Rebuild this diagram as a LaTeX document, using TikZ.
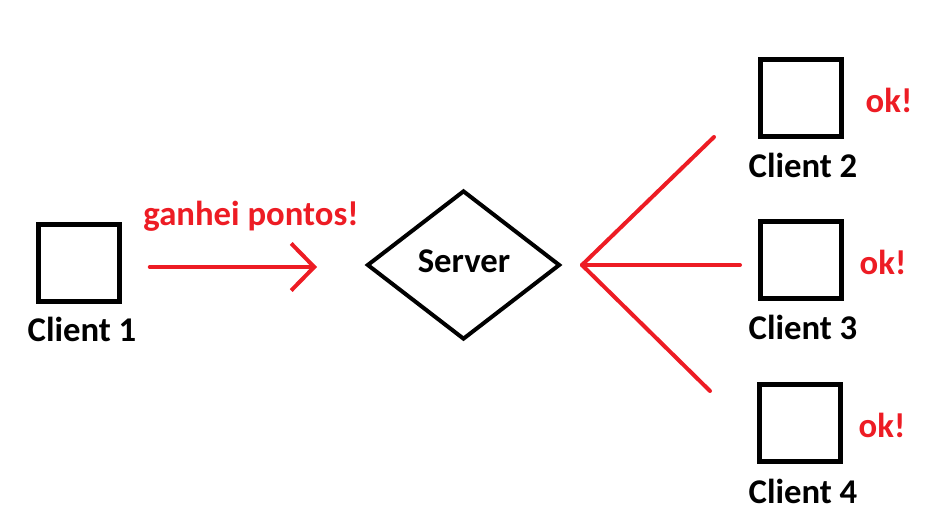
\documentclass[tikz,border=0pt]{standalone}
\usepackage{fontspec}
\setmainfont{Carlito}
\usepackage{tikz}
\usetikzlibrary{shapes.geometric, arrows.meta}
\definecolor{paintred}{RGB}{237,28,36}

\begin{document}
\begin{tikzpicture}[x=1pt, y=-1pt, font=\fontsize{34.7}{40}\selectfont\bfseries,
    client/.style={draw, line width=4.5pt, minimum width=81pt, minimum height=77pt, inner sep=0pt},
    msg/.style={text=paintred, anchor=base, inner sep=0pt},
    label text/.style={anchor=base, inner sep=0pt},
    wire/.style={draw=paintred, line width=4pt, line cap=round}]
    \useasboundingbox (0,0) rectangle (948,526);
    % client sending points
    \node[client] (c1) at (79,263) {};
    \node[label text] (c1name) at (82,342) {Client 1};
    \node[diamond, draw, line width=4pt, inner sep=0pt, minimum width=193pt, minimum height=149pt] (server) at (463.5,265) {};
    \node[label text] (servername) at (464,273) {Server};
    \draw[wire, shorten <=28pt, shorten >=48pt, -{Straight Barb[length=23pt, width=47pt, line width=4pt]}] ([yshift=-4pt]c1.east) -- ([yshift=-4pt]c1.east -| server.west);
    \node[msg] (gain) at (251,226) {ganhei pontos!};
    % other clients
    \foreach \i/\x/\y/\okx in {2/801/98/889, 3/801/260/883, 4/800/423/882} {
        \node[client] (c\i) at (\x,\y) {};
        \node[label text] (c\i name) at (803,\y+80) {Client \i};
        \node[msg] (ok\i) at (\okx,\y+14.5) {ok!};
    }
    \coordinate (hub) at ([xshift=20pt]server.east);
    \coordinate (e2) at (714,137);
    \coordinate (e3) at (740,265);
    \coordinate (e4) at (710,391);
    \foreach \e in {e2, e3, e4}
        \draw[wire] (hub) -- (\e);
\end{tikzpicture}
\end{document}
